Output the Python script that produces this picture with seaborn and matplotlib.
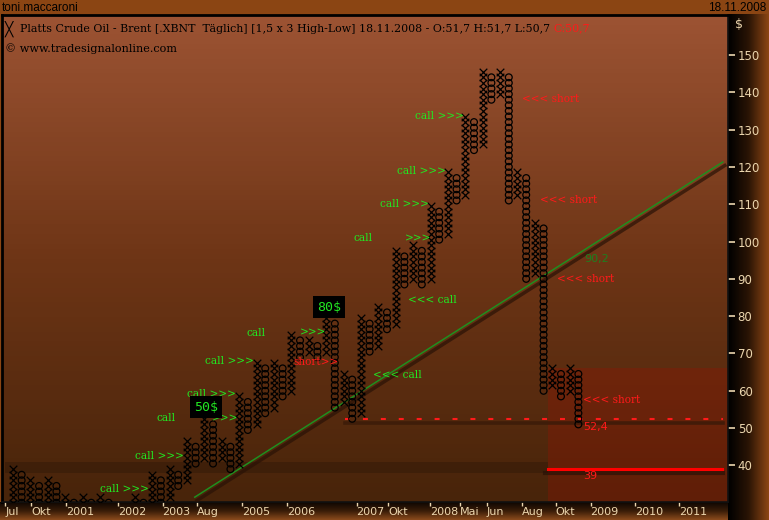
import numpy as np
import pandas as pd
import matplotlib.pyplot as plt
import matplotlib.patheffects as pe
import seaborn as sns
from matplotlib.colors import LinearSegmentedColormap
from matplotlib.patches import Rectangle

# ----------------------------
# Data (point & figure, box 1.5, 3 box reversal)
# ----------------------------
BOX = 1.5

col_kind = ['X', 'O', 'X', 'O', 'X', 'O', 'X', 'O', 'X', 'O',
            'X', 'O', 'X', 'O', 'X', 'O', 'X', 'O', 'X', 'O',
            'X', 'O', 'X', 'O', 'X', 'O', 'X', 'O', 'X', 'O',
            'X', 'O', 'X', 'O', 'X', 'O', 'X', 'O', 'X', 'O',
            'X', 'O', 'X', 'O', 'X', 'O', 'X', 'O', 'X', 'O',
            'X', 'O', 'X', 'O', 'X', 'O', 'X', 'O', 'X', 'O',
            'X', 'O', 'X', 'O', 'X', 'O']
col_low = [27, 28.5, 30, 28.5, 30, 27, 27, 25.5, 27, 24,
           25.5, 24, 24, 22.5, 24, 25.5, 27, 30, 31.5, 34.5,
           36, 40.5, 42, 40.5, 42, 39, 40.5, 49.5, 51, 54,
           55.5, 58.5, 60, 69, 70.5, 69, 70.5, 55.5, 57, 52.5,
           54, 70.5, 72, 76.5, 78, 88.5, 90, 88.5, 90, 100.5,
           102, 111, 112.5, 124.5, 126, 138, 139.5, 111, 112.5, 90,
           91.5, 60, 61.5, 58.5, 60, 51]
col_high = [39, 37.5, 36, 34.5, 36, 34.5, 31.5, 30, 31.5, 30,
            31.5, 30, 28.5, 27, 31.5, 30, 37.5, 36, 39, 37.5,
            46.5, 45, 52.5, 51, 46.5, 45, 58.5, 57, 67.5, 66,
            67.5, 66, 75, 73.5, 73.5, 72, 79.5, 78, 64.5, 63,
            79.5, 78, 82.5, 81, 97.5, 96, 99, 97.5, 109.5, 108,
            118.5, 117, 133.5, 132, 145.5, 144, 145.5, 144, 118.5, 117,
            105, 103.5, 66, 64.5, 66, 64.5]

# x axis date ticks (column positions)
tick_pos = [-0.9, 2.1, 6.1, 12.1, 17.2, 21.1, 26.3, 31.5, 39.5, 43.1,
            47.9, 51.4, 54.5, 58.5, 62.4, 66.4, 71.5, 76.6]
tick_lab = ['Jul', 'Okt', '2001', '2002', '2003', 'Aug', '2005', '2006', '2007', 'Okt',
            '2008', 'Mai', 'Jun', 'Aug', 'Okt', '2009', '2010', '2011']
price_ticks = [40, 50, 60, 70, 80, 90, 100, 110, 120, 130, 140, 150]

# signal annotations
sig_text = ['call >>>', 'call >>>', 'call', '>>>', 'call >>>', 'call >>>', 'call', '>>>',
            '<<< call', '<<< call', 'call', '>>>', 'call >>>', 'call >>>', 'call >>>',
            'short>>', '<<< short', '<<< short', '<<< short', '<<< short']
sig_x = [10.0, 14.0, 16.55, 22.9, 20.0, 22.1, 26.9, 33.0,
         41.4, 45.4, 39.1, 45.1, 42.2, 44.1, 46.2,
         32.2, 58.5, 60.6, 62.5, 65.5]
sig_y = [33.6, 42.5, 52.7, 52.7, 59.1, 68.0, 75.5, 75.5,
         64.2, 84.3, 100.9, 100.9, 110.1, 118.9, 133.6,
         67.7, 138.2, 111.1, 89.9, 57.5]
sig_col = ['#22e622'] * 15 + ['#ff1a1a'] * 5

box_text = ['50$', '80$']
box_x = [22.2, 36.3]
box_y = [55.6, 82.4]

trend_x = [20.9, 81.6]
trend_y = [31.5, 121.3]
trend_label = '90,2'
support_level = 52.4
target_level = 39
support_start = 38.2
target_start = 61.5

X_MIN, X_MAX = -1.26, 82.2
Y_MIN, Y_MAX = 30.2, 160.7

# ----------------------------
# Build box table
# ----------------------------
rows = []
for i, (k, lo, hi) in enumerate(zip(col_kind, col_low, col_high)):
    for p in np.arange(lo, hi + 0.01, BOX):
        rows.append({'col': i, 'price': p, 'kind': k})
boxes = pd.DataFrame(rows)

# ----------------------------
# Figure
# ----------------------------
W, H = 769, 520
fig = plt.figure(figsize=(W / 100, H / 100), dpi=100)
fig.patch.set_facecolor('#8b4513')
beige = '#ecd6ae'

# top bar
top = fig.add_axes([0, (H - 14) / H, 1, 14 / H])
top.set_facecolor('#8b4513')
top.axis('off')
top.text(0.003, 0.45, 'toni.maccaroni', color='black', fontsize=8.5, va='center',
         family='Liberation Sans')
top.text(0.997, 0.45, '18.11.2008', color='black', fontsize=8.5, va='center', ha='right',
         family='Liberation Sans')

# right panel gradient
right = fig.add_axes([728 / W, 0, (W - 728) / W, (H - 14) / H])
right.imshow(np.linspace(0, 1, 50)[None, :], aspect='auto',
             cmap=LinearSegmentedColormap.from_list('r', ['#000000', '#2a1405', '#8b4513']))
right.axis('off')

# bottom panel gradient
bottom = fig.add_axes([0, 0, 728 / W, 18 / H])
bottom.imshow(np.linspace(0, 1, 50)[:, None], aspect='auto',
              cmap=LinearSegmentedColormap.from_list('b', ['#0e0602', '#3a1d08', '#8a4a1c']))
bottom.axis('off')

# main plot
ax = fig.add_axes([2 / W, 18 / H, 726 / W, (H - 18 - 15) / H])
ax.set_zorder(5)
bg = LinearSegmentedColormap.from_list('bg', ['#48240a', '#6e3516', '#9c5333'])
ax.imshow(np.linspace(0, 1, 100)[:, None], aspect='auto', cmap=bg, origin='lower',
          extent=[X_MIN, X_MAX, Y_MIN, Y_MAX], zorder=0)

# shaded zones
ax.add_patch(Rectangle((-0.9, 37.9), target_start + 0.9, 3.0, facecolor='black',
                       alpha=0.18, lw=0, zorder=1))
ax.add_patch(Rectangle((target_start, Y_MIN), X_MAX - target_start, 66.2 - Y_MIN,
                       facecolor='#a01000', alpha=0.28, lw=0, zorder=1))

# trend line with shadow
sns.lineplot(x=trend_x, y=trend_y, ax=ax, color='#1f8f1f', lw=1.1, zorder=3,
             path_effects=[pe.SimpleLineShadow(offset=(1.5, -2.5), shadow_color='#2a1206',
                                               alpha=0.7, linewidth=2.5), pe.Normal()])

# support / target lines
ax.plot([support_start, 81.6], [support_level - 0.9] * 2, color='#3a1a08', lw=2.6,
        alpha=0.8, zorder=2)
ax.plot([support_start, 81.6], [support_level] * 2, color='#ff1a1a', lw=1.5,
        dashes=[2.4, 6.2], zorder=3)
ax.plot([target_start - 0.3, 81.6], [target_level - 1.1] * 2, color='#2a1206', lw=3,
        alpha=0.7, zorder=2)
ax.plot([target_start, 81.5], [target_level] * 2, color='#ff0000', lw=2.2, zorder=3)

# X and O boxes
sns.scatterplot(data=boxes[boxes.kind == 'X'], x='col', y='price', ax=ax, marker='x',
                s=30, color='black', linewidth=0.9, zorder=4, legend=False)
sns.scatterplot(data=boxes[boxes.kind == 'O'], x='col', y='price', ax=ax, marker='o',
                s=24, facecolor='none', edgecolor='black', linewidth=0.9, zorder=4,
                legend=False)

# annotations
for t, x, y, c in zip(sig_text, sig_x, sig_y, sig_col):
    ax.text(x, y, t, color=c, fontsize=7.6, va='center', ha='left',
            family='DejaVu Serif', zorder=6)
for t, x, y in zip(box_text, box_x, box_y):
    ax.text(x, y, t, color='#22e622', fontsize=9.5, va='center', ha='center',
            family='DejaVu Sans Mono', zorder=6,
            bbox=dict(facecolor='black', edgecolor='none', pad=3))
ax.text(65.7, 95.3, trend_label, color='#1f7f1f', fontsize=8, va='center',
        family='DejaVu Sans', zorder=6)
ax.text(65.5, 50.3, '52,4', color='#ff1a1a', fontsize=8, va='center',
        family='DejaVu Sans', zorder=6)
ax.text(65.5, 37.1, '39', color='#ff1a1a', fontsize=8, va='center',
        family='DejaVu Sans', zorder=6)

# title lines
ax.text(0.004, 0.972, '\u2573', transform=ax.transAxes, color='black', fontsize=10,
        va='center', family='DejaVu Sans')
ttl = ax.text(0.025, 0.972, 'Platts Crude Oil - Brent [.XBNT  T\u00e4glich] [1,5 x 3 High-Low] '
              '18.11.2008 - O:51,7 H:51,7 L:50,7 ', transform=ax.transAxes,
              color='black', fontsize=7.9, va='center', family='DejaVu Serif')
fig.canvas.draw()
bb = ttl.get_window_extent().transformed(ax.transAxes.inverted())
ax.text(bb.x1, 0.972, 'C:50,7', transform=ax.transAxes, color='#ff1a1a', fontsize=7.9,
        va='center', family='DejaVu Serif')
ax.text(0.004, 0.93, '\u00a9 www.tradesignalonline.com', transform=ax.transAxes,
        color='black', fontsize=8.1, va='center', family='DejaVu Serif')

# axes
ax.set_xlim(X_MIN, X_MAX)
ax.set_ylim(Y_MIN, Y_MAX)
ax.set_xticks(tick_pos)
ax.set_xticklabels(tick_lab, ha='left')
ax.yaxis.tick_right()
ax.set_yticks(price_ticks)
ax.set_yticklabels([str(v) for v in price_ticks])
ax.tick_params(axis='x', colors=beige, length=3, width=1, pad=0.5, labelsize=8)
ax.tick_params(axis='y', colors=beige, length=5, width=1.2, pad=2, labelsize=8.5)
ax.set_xlabel('')
ax.set_ylabel('')
for side in ['left', 'top']:
    ax.spines[side].set_color('black')
    ax.spines[side].set_linewidth(2)
for side in ['right', 'bottom']:
    ax.spines[side].set_color('#111111')
    ax.spines[side].set_linewidth(1.2)
fig.text(735 / W, 1 - 25 / H, '$', color=beige, fontsize=9, va='center')

fig.savefig('out.png', dpi=100)
